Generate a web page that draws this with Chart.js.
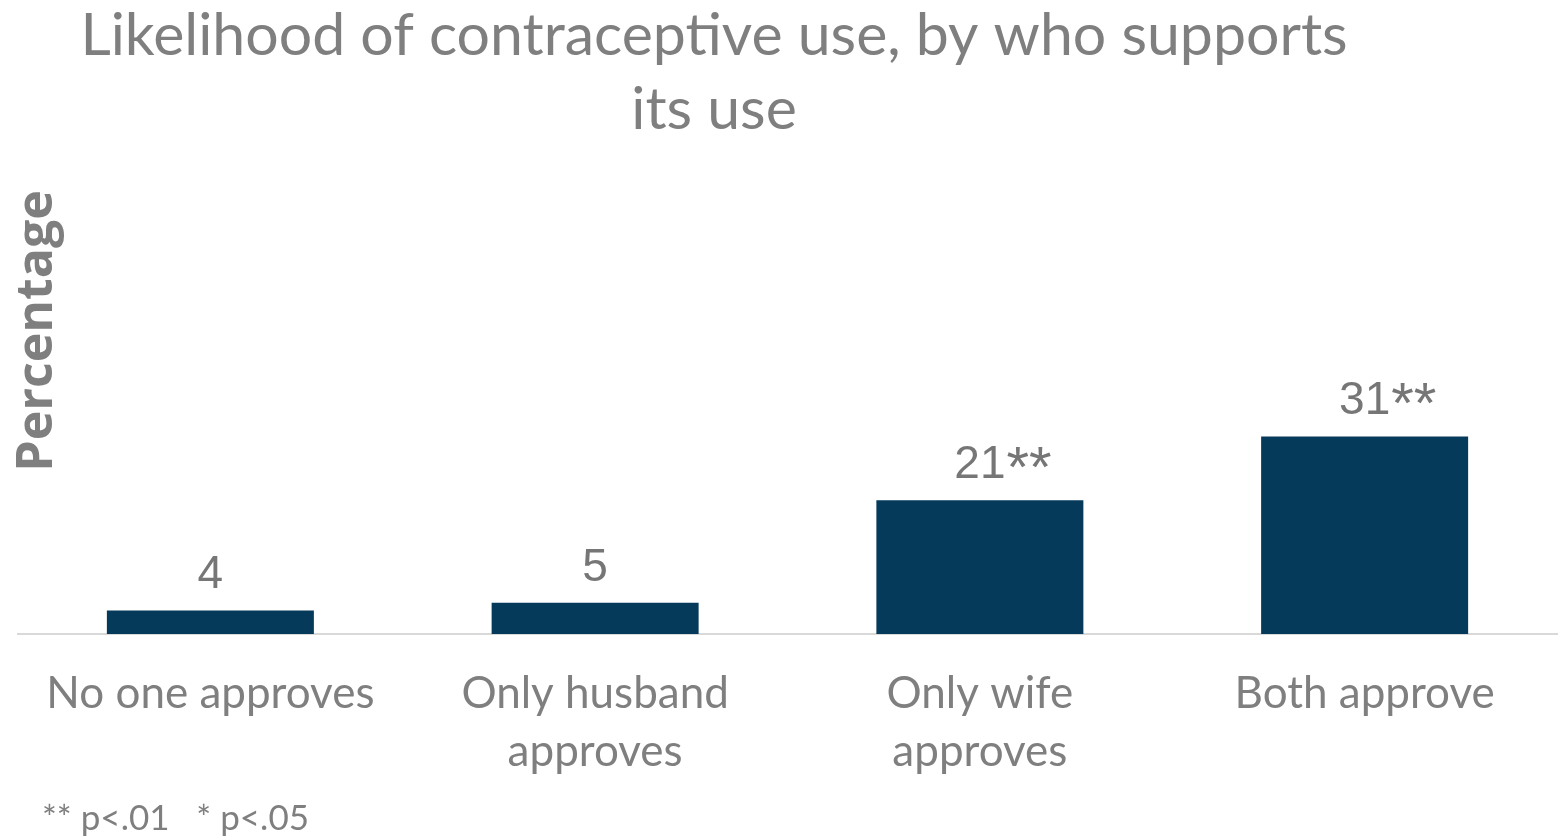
<!DOCTYPE html>
<html lang="en">
<head>
    <meta charset="UTF-8" />
    <title>Likelihood of contraceptive use</title>
    <script src="https://cdn.jsdelivr.net/npm/chart.js"></script>
    <style>
        html, body {
            margin: 0;
            padding: 0;
            background: #fff;
        }
        #wrap {
            width: 1568px;
            height: 839px;
        }
    </style>
</head>
<body>
    <div id="wrap">
        <canvas id="supportChart" width="1568" height="839"></canvas>
    </div>

    <script>
        // chart data
        var categories = [
            "No one approves",
            ["Only husband", "approves"],
            ["Only wife", "approves"],
            "Both approve"
        ];
        var percentages = [3.7, 4.9, 21, 31];
        var significance = ["", "", "**", "**"];
        var titleLines = ["Likelihood of contraceptive use, by who supports", "its use"];
        var yAxisTitle = "Percentage";
        var footnote = "** p<.01   * p<.05";

        var grey = '#7f7f7f';
        var gillLike = "Lato, 'Open Sans', sans-serif";

        // draws the title, axis title, footnote and the value labels
        var textPlugin = {
            id: 'textPlugin',
            afterDraw: function (chart) {
                var ctx = chart.ctx;
                ctx.save();
                ctx.fillStyle = grey;

                // title
                ctx.font = "59px " + gillLike;
                ctx.textAlign = 'center';
                ctx.textBaseline = 'alphabetic';
                ctx.fillText(titleLines[0], 714, 55);
                ctx.fillText(titleLines[1], 714, 129);

                // value labels above bars: number centred, stars appended
                ctx.fillStyle = '#767676';
                var meta = chart.getDatasetMeta(0);
                meta.data.forEach(function (bar, i) {
                    var num = String(Math.round(percentages[i]));
                    var base = bar.y - 22;
                    ctx.font = "46px 'Liberation Sans', Arial, sans-serif";
                    ctx.textAlign = 'center';
                    ctx.fillText(num, bar.x, base);
                    if (significance[i]) {
                        var w = ctx.measureText(num).width;
                        ctx.font = "58px 'Liberation Sans', Arial, sans-serif";
                        ctx.textAlign = 'left';
                        ctx.fillText(significance[i], bar.x + w / 2 + 1, base + 9);
                    }
                });

                // footnote
                ctx.fillStyle = grey;
                ctx.font = "35px " + gillLike;
                ctx.textAlign = 'left';
                ctx.fillText(footnote, 42, 830);

                // rotated y axis title
                ctx.translate(52, 331);
                ctx.rotate(-Math.PI / 2);
                ctx.textAlign = 'center';
                ctx.font = "bold 50px 'Open Sans', sans-serif";
                ctx.fillText(yAxisTitle, 0, 0);

                ctx.restore();
            }
        };

        var ctx = document.getElementById('supportChart').getContext('2d');

        var myChart = new Chart(ctx, {
            type: 'bar',
            data: {
                labels: categories,
                datasets: [{
                    label: 'Percentage',
                    data: percentages,
                    backgroundColor: '#063a5b',
                    borderWidth: 0,
                    barPercentage: 0.538,
                    categoryPercentage: 1.0
                }]
            },
            options: {
                responsive: false,
                animation: false,
                layout: {
                    padding: { top: 411, left: 18, right: 11, bottom: 0 }
                },
                scales: {
                    x: {
                        grid: { display: false, drawTicks: false },
                        border: { display: true, color: '#d9d9d9', width: 2 },
                        ticks: {
                            color: grey,
                            font: { family: gillLike, size: 44, lineHeight: 1.32 },
                            padding: 31,
                            maxRotation: 0,
                            autoSkip: false
                        },
                        afterFit: function (scale) {
                            scale.height = 205;
                        }
                    },
                    y: {
                        display: false,
                        min: 0,
                        max: 35
                    }
                },
                plugins: {
                    legend: { display: false },
                    title: { display: false },
                    tooltip: { enabled: false }
                }
            },
            plugins: [textPlugin]
        });
    </script>
</body>
</html>
